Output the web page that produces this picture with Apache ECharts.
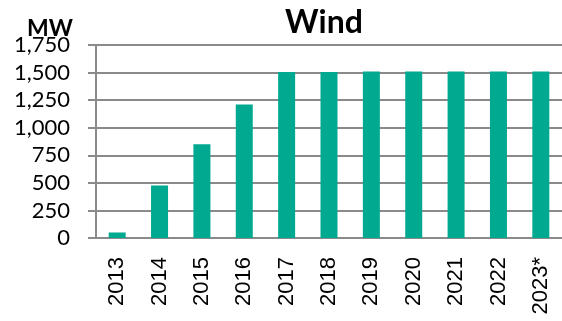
<!DOCTYPE html>
<html>
<head>
<meta charset="utf-8">
<script src="https://cdn.jsdelivr.net/npm/echarts@6/dist/echarts.min.js"></script>
<style>
  html, body { margin: 0; padding: 0; background: #fff; }
  #main { width: 562px; height: 321px; }
</style>
</head>
<body>
<div id="main"></div>
<script>
// data
var years = ['2013', '2014', '2015', '2016', '2017', '2018', '2019', '2020', '2021', '2022', '2023*'];
var windMW = [50, 475, 850, 1210, 1505, 1505, 1510, 1510, 1510, 1510, 1510];
var yTicks = [0, 250, 500, 750, 1000, 1250, 1500, 1750];

var chart = echarts.init(document.getElementById('main'));

var option = {
  animation: false,
  title: [
    {
      text: 'Wind',
      left: 319,
      top: 2,
      textAlign: 'center',
      textStyle: { fontFamily: 'Lato', fontWeight: 'bold', fontSize: 32, color: '#000' }
    },
    {
      text: 'MW',
      left: 22,
      top: 12,
      textStyle: { fontFamily: 'Lato', fontWeight: 'bold', fontSize: 23, color: '#000' }
    }
  ],
  grid: { left: 96, top: 45, width: 469, bottom: 83 },
  xAxis: {
    type: 'category',
    data: years,
    axisLine: { lineStyle: { color: '#8a8a8a', width: 2 } },
    axisTick: { alignWithLabel: true, length: 5, lineStyle: { color: '#8a8a8a', width: 1.5 } },
    axisLabel: {
      rotate: 90,
      margin: 19,
      fontFamily: 'Liberation Sans',
      fontSize: 22,
      color: '#000'
    }
  },
  yAxis: {
    type: 'value',
    min: yTicks[0],
    max: yTicks[yTicks.length - 1],
    interval: 250,
    axisLine: { show: true, lineStyle: { color: '#8a8a8a', width: 2 } },
    axisTick: { show: true, length: 8, lineStyle: { color: '#8a8a8a', width: 2 } },
    splitLine: { lineStyle: { color: '#8a8a8a', width: 2 } },
    axisLabel: {
      margin: 26,
      fontFamily: 'Lato',
      fontSize: 22,
      color: '#000',
      formatter: function (v) { return v.toLocaleString('en-US'); }
    }
  },
  series: [
    {
      name: 'Wind',
      type: 'bar',
      data: windMW,
      barWidth: 17,
      itemStyle: { color: '#00a98f' }
    }
  ]
};

chart.setOption(option);
</script>
</body>
</html>
